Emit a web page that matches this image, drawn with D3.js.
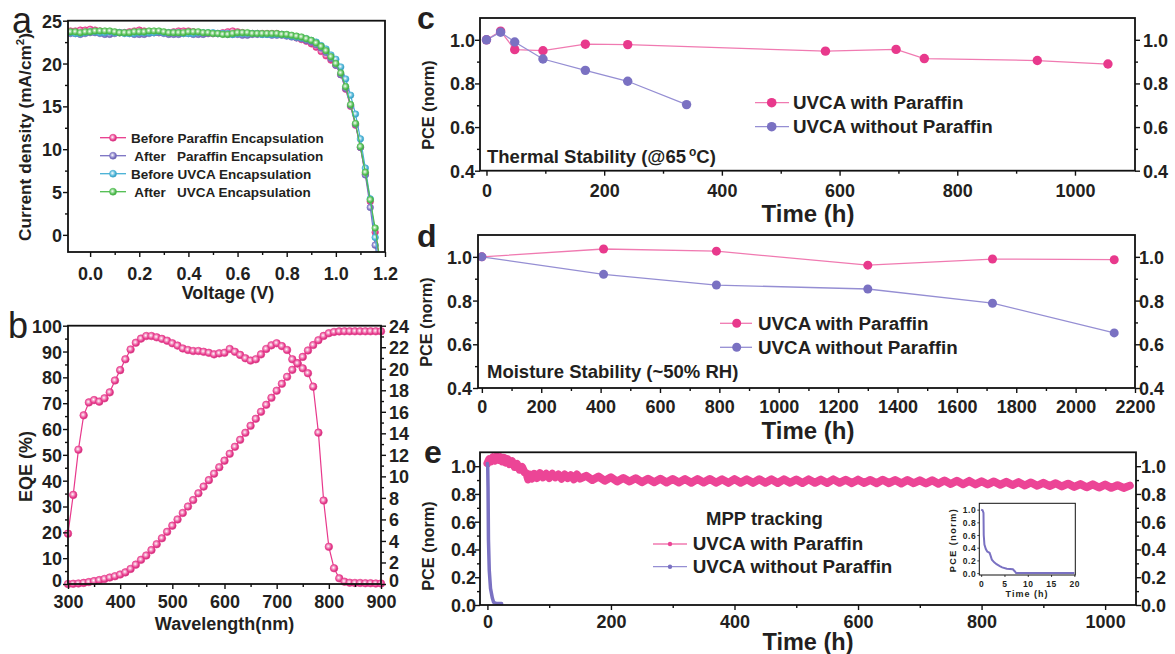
<!DOCTYPE html>
<html><head><meta charset="utf-8">
<script src="https://cdn.jsdelivr.net/npm/d3@7"></script>
<style>
body{margin:0;background:#fff}
svg{display:block}
text{font-family:'Liberation Sans',Arial,Helvetica,sans-serif;font-weight:bold;fill:#231f20}
</style>
</head><body>
<svg id="c" width="1175" height="654"></svg>
<script>
// ---------------- DATA ----------------
// Panel a : J-V curves
const voltage = [-0.10,-0.08,-0.06,-0.04,-0.02,0.00,0.02,0.04,0.06,0.08,0.10,0.12,0.14,0.16,0.18,0.20,0.22,0.24,0.26,0.28,0.30,0.32,0.34,0.36,0.38,0.40,0.42,0.44,0.46,0.48,0.50,0.52,0.54,0.56,0.58,0.60,0.62,0.64,0.66,0.68,0.70,0.72,0.74,0.76,0.78,0.80,0.82,0.84,0.86,0.88,0.90,0.92,0.94,0.96,0.98,1.00,1.02,1.04,1.06,1.08,1.10,1.12,1.14,1.16,1.18];
const jBeforeParaffin = [23.7,23.8,23.8,23.9,23.9,24.0,23.9,23.8,23.7,23.7,23.6,23.6,23.6,23.7,23.8,23.9,23.8,23.7,23.6,23.6,23.6,23.6,23.7,23.8,23.8,23.8,23.7,23.6,23.5,23.5,23.5,23.5,23.6,23.7,23.8,23.7,23.6,23.5,23.5,23.5,23.5,23.5,23.5,23.5,23.4,
  23.3,23.2,23.0,22.8,22.6,22.3,21.9,21.4,20.9,20.4,19.8,18.7,17.0,15.0,12.8,10.2,7.1,3.9,0.3,-3.5];
const jAfterParaffin = [23.6,23.5,23.5,23.4,23.5,23.6,23.6,23.5,23.4,23.4,23.5,23.6,23.6,23.5,23.4,23.4,23.4,23.5,23.6,23.6,23.5,23.4,23.4,23.4,23.5,23.5,23.4,23.4,23.4,23.5,23.5,23.5,23.5,23.4,23.4,23.4,23.3,23.3,23.4,23.4,23.4,23.4,23.3,23.3,23.3,
  23.2,23.1,23.0,22.9,22.7,22.5,22.2,21.8,21.3,20.6,19.8,18.7,17.1,15.1,12.9,10.2,7.0,3.2,-1.2,-5.0];
const jBeforeUVCA = [23.6,23.6,23.5,23.5,23.6,23.7,23.7,23.6,23.6,23.7,23.6,23.6,23.5,23.5,23.5,23.6,23.6,23.6,23.6,23.7,23.6,23.6,23.6,23.6,23.5,23.5,23.5,23.6,23.6,23.6,23.6,23.5,23.5,23.5,23.4,23.5,23.5,23.5,23.5,23.5,23.4,23.4,23.4,23.4,23.4,
  23.3,23.2,23.1,23.0,22.9,22.7,22.5,22.1,21.7,21.0,20.5,19.6,18.2,16.3,14.1,11.2,7.8,4.2,-0.3,-4.5];
const jAfterUVCA = [23.8,23.7,23.7,23.6,23.7,23.7,23.8,23.8,23.8,23.8,23.7,23.6,23.6,23.6,23.7,23.7,23.7,23.8,23.8,23.8,23.7,23.6,23.6,23.6,23.6,23.7,23.7,23.7,23.6,23.6,23.5,23.5,23.4,23.4,23.5,23.6,23.6,23.6,23.5,23.5,23.5,23.5,23.5,23.5,23.4,
  23.4,23.3,23.2,23.1,22.9,22.7,22.4,22.0,21.5,20.8,20.0,18.9,17.3,15.2,13.0,10.3,7.3,4.1,0.8,-3.0];
const jvNames = ["Before Paraffin Encapsulation"," After\u00a0\u00a0 Paraffin Encapsulation","Before UVCA Encapsulation"," After\u00a0\u00a0 UVCA Encapsulation"];

// Panel b : EQE & integrated current
const wavelength = [300,310,320,330,340,350,360,370,380,390,400,410,420,430,440,450,460,470,480,490,500,510,520,530,540,550,560,570,580,590,600,610,620,630,640,650,660,670,680,690,700,710,720,730,740,750,760,770,780,790,800,810,820,830,840,850,860,870,880,890,900];
const eqe = [19.5,34.5,52,65.3,70.3,71.2,70.6,71.9,74.2,78.8,
  82.8,87,90.8,93.4,95,96,96,95.5,94.9,94.2,
  93.2,92.3,91.2,90.6,90.2,90.2,89.9,89.5,88.9,89.3,
  89.5,91,89.9,88.7,87.4,86.5,87,88.9,91,92.4,
  93.2,92.1,90.6,87,85.4,83.5,81.6,76.4,58.6,32.3,
  14.4,6.1,2.2,0.9,0.5,0.4,0.4,0.3,0.3,0.2,0.2];
const jInt = [0,0.02,0.05,0.1,0.18,0.27,0.36,0.47,0.6,0.72,
  0.88,1.08,1.4,1.8,2.25,2.65,3.15,3.7,4.25,4.85,
  5.42,6.0,6.6,7.2,7.8,8.43,9.05,9.65,10.25,10.85,
  11.46,12.1,12.75,13.4,14.05,14.7,15.35,16.0,16.65,17.3,
  17.96,18.6,19.25,19.9,20.5,21.1,21.7,22.2,22.65,23.05,
  23.3,23.42,23.47,23.48,23.48,23.48,23.48,23.48,23.48,23.48,23.48];

// Panel c : thermal stability
const thermTimeP = [0,24,48,96,168,240,576,696,744,936,1056];
const thermPCEP  = [1.0,1.04,0.955,0.95,0.98,0.978,0.948,0.956,0.914,0.905,0.889];
const thermTimeN = [0,24,48,96,168,240,340];
const thermPCEN  = [1.0,1.035,0.99,0.912,0.86,0.81,0.703];

// Panel d : moisture stability
const moistTime = [0,410,790,1300,1720,2130];
const moistPCEP = [1.0,1.036,1.026,0.962,0.99,0.987];
const moistPCEN = [1.0,0.92,0.871,0.853,0.788,0.652];

const seriesNames = ["UVCA with Paraffin","UVCA without Paraffin"];

// Panel e : MPP tracking
const mppTimeP = [0,3,6,9,12,15,18,21,24,27,30,33,36,40,44,48,52,56,60,63,66,69,72,76,80,85,90,95,100,105,110,115,120,125,130,135,140,145,150,160,170,180,190,200,210,220,230,240,250,260,270,280,290,300,310,320,330,340,350,360,370,380,390,400,410,420,430,440,450,460,470,480,490,500,510,520,530,540,550,560,570,580,590,600,610,620,630,640,650,660,670,680,690,700,710,720,730,740,750,760,770,780,790,800,810,820,830,840,850,860,870,880,890,900,910,920,930,940,950,960,970,980,990,1000,1010,1020,1030,1040];
const mppPCEP = [1.02,1.05,1.035,1.065,1.04,1.07,1.045,1.065,1.035,1.06,1.025,1.05,1.015,
  1.035,0.995,1.015,0.975,0.995,0.955,0.95,0.905,0.94,0.91,0.945,0.915,0.95,0.92,0.945,
  0.915,0.945,0.92,0.94,0.91,0.94,0.915,0.935,0.905,0.94,0.91,
  0.93,0.9,0.925,0.895,0.92,0.89,0.915,0.89,0.913,0.885,0.91,0.885,0.909,0.883,0.908,
  0.883,0.907,0.881,0.907,0.882,0.908,0.881,0.905,0.88,0.907,
  0.881,0.905,0.88,0.906,0.881,0.905,0.879,0.905,0.881,0.904,
  0.879,0.905,0.88,0.903,0.879,0.905,0.88,0.902,0.878,0.903,
  0.879,0.901,0.877,0.902,0.878,0.9,0.876,0.901,0.877,0.898,
  0.875,0.898,0.873,0.897,0.872,0.895,0.87,0.894,0.869,0.891,
  0.868,0.89,0.866,0.887,0.864,0.885,0.861,0.883,0.859,0.88,
  0.857,0.877,0.854,0.874,0.851,0.871,0.848,0.869,0.846,0.867,
  0.844,0.863,0.843,0.86];
const mppTimeN = [0,0.5,1,1.7,3,5,8,10,15,23];
const mppPCEN  = [1.02,1.0,0.85,0.47,0.25,0.12,0.05,0.02,0.01,0.01];
const insetTime = [0,0.3,0.5,0.55,0.7,1.0,1.3,1.8,2.0,2.3,2.8,3.3,4.0,4.5,5.5,6.8,7.2,7.5,20];
const insetPCE  = [1.0,0.99,0.95,0.6,0.45,0.38,0.34,0.32,0.28,0.21,0.17,0.14,0.11,0.09,0.07,0.06,0.03,0.0,0.0];

// tick labels
const ticksA_x = [0.0,0.2,0.4,0.6,0.8,1.0,1.2], ticksA_y = [0,5,10,15,20,25];
const ticksB_x = [300,400,500,600,700,800,900], ticksB_y = [0,10,20,30,40,50,60,70,80,90,100], ticksB_yR = [0,2,4,6,8,10,12,14,16,18,20,22,24];
const ticksC_x = [0,200,400,600,800,1000], ticksCD_y = [0.4,0.6,0.8,1.0];
const ticksD_x = [0,200,400,600,800,1000,1200,1400,1600,1800,2000,2200];
const ticksE_x = [0,200,400,600,800,1000], ticksE_y = [0.0,0.2,0.4,0.6,0.8,1.0];
const ticksIn_x = [0,5,10,15,20], ticksIn_y = [0.0,0.2,0.4,0.6,0.8,1.0];

// ---------------- STYLE ----------------
const INK = "#231f20";
const PINK = "#e8398c", PINK_L = "#f07ab1", PURP = "#7a71c2", PURP_L = "#958ed3", CYAN = "#45b0d5", GREEN = "#4fbd4f";
const MPP_PINK = "#ec4596";

const svg = d3.select("#c");
const defs = svg.append("defs");
function ball(id, color) {
  const g = defs.append("radialGradient").attr("id", id).attr("cx", "42%").attr("cy", "42%").attr("r", "58%");
  g.append("stop").attr("offset", "0%").attr("stop-color", "#fff");
  g.append("stop").attr("offset", "38%").attr("stop-color", d3.interpolateRgb("#fff", color)(0.55));
  g.append("stop").attr("offset", "75%").attr("stop-color", color);
  g.append("stop").attr("offset", "100%").attr("stop-color", d3.color(color).darker(0.5));
}
ball("bPink", PINK); ball("bPurp", PURP); ball("bCyan", CYAN); ball("bGreen", GREEN);

function axes(c) {
  const g = svg.append("g");
  const [xl, xr] = c.x.range(), [yb, yt] = c.y.range();
  const T = c.tick || 5, M = c.minor || 3, fs = c.fs || 18;
  function put(gen, tr, kind, gap) {
    const a = g.append("g").attr("transform", tr).call(gen);
    a.select(".domain").remove();
    a.selectAll("line").attr("stroke", "#111").attr("stroke-width", c.tw || 1.4);
    const t = a.selectAll("text").attr("fill", INK).attr("font-size", fs)
      .style("font-family", "'Liberation Sans',Arial,sans-serif").style("font-weight", "bold");
    if (c.ls) t.attr("letter-spacing", c.ls);
    if (kind === "b") t.attr("y", gap).attr("dy", 0);
    if (kind === "l") t.attr("x", -gap).attr("dy", "0.36em");
    if (kind === "r") t.attr("x", gap).attr("dy", "0.36em");
    if ((kind === "l" || kind === "r") && c.zeroLift) t.filter(d => d === 0).attr("y", -c.zeroLift);
    return a;
  }
  put(d3.axisBottom(c.x).tickValues(c.xMinor || []).tickSize(M).tickFormat(""), `translate(0,${yb})`);
  put(d3.axisBottom(c.x).tickValues(c.xTicks).tickSize(T).tickFormat(c.xFmt), `translate(0,${yb})`, "b", c.xGap);
  put(d3.axisLeft(c.y).tickValues(c.yMinor || []).tickSize(M).tickFormat(""), `translate(${xl},0)`);
  put(d3.axisLeft(c.y).tickValues(c.yTicks).tickSize(T).tickFormat(c.yFmt), `translate(${xl},0)`, "l", c.yGap);
  if (c.yR) {
    put(d3.axisRight(c.yR).tickValues(c.yRMinor || []).tickSize(M).tickFormat(""), `translate(${xr},0)`);
    put(d3.axisRight(c.yR).tickValues(c.yRTicks).tickSize(T).tickFormat(c.yRFmt), `translate(${xr},0)`, "r", c.yRGap);
  }
  g.append("rect").attr("x", xl).attr("y", yt).attr("width", xr - xl).attr("height", yb - yt)
    .attr("fill", "none").attr("stroke", "#111").attr("stroke-width", c.fw || 1.8);
  return g;
}
function clip(id, x, y) {
  const [xl, xr] = x.range(), [yb, yt] = y.range();
  defs.append("clipPath").attr("id", id).append("rect").attr("x", xl).attr("y", yt).attr("width", xr - xl).attr("height", yb - yt);
}
function txt(x, y, s, fs, opt = {}) {
  const t = svg.append("text").attr("x", x).attr("y", y).attr("font-size", fs).text(s);
  if (opt.anchor) t.attr("text-anchor", opt.anchor);
  if (opt.rot) t.attr("transform", `rotate(-90,${x},${y})`);
  if (opt.weight) t.style("font-weight", opt.weight);
  return t;
}
const f1 = d3.format(".1f");

// ---------------- PANEL a ----------------
{
  const x = d3.scaleLinear().domain([-0.09, 1.2]).range([68, 385]);
  const y = d3.scaleLinear().domain([-2, 25]).range([252, 20.7]);
  clip("clipA", x, y);
  const series = [[jBeforeParaffin, PINK, "bPink"], [jAfterParaffin, PURP, "bPurp"], [jBeforeUVCA, CYAN, "bCyan"], [jAfterUVCA, GREEN, "bGreen"]];
  const g = svg.append("g").attr("clip-path", "url(#clipA)");
  const line = d3.line().x((d, i) => x(voltage[i])).y(d => y(d));
  series.forEach(([vals, col, grad]) => {
    g.append("path").attr("d", line(vals)).attr("fill", "none").attr("stroke", col).attr("stroke-width", 1.2);
    g.selectAll(null).data(vals).join("circle").attr("cx", (d, i) => x(voltage[i])).attr("cy", d => y(d))
      .attr("r", 3.3).attr("fill", `url(#${grad})`).attr("stroke", col).attr("stroke-width", 0.6);
  });
  axes({ x, y, xTicks: ticksA_x, xMinor: [0.1,0.3,0.5,0.7,0.9,1.1], yTicks: ticksA_y, yMinor: [2.5,7.5,12.5,17.5,22.5],
    xFmt: f1, yFmt: d3.format("d"), xGap: 27.5, yGap: 6, fs: 18 });
  // legend
  series.forEach(([vals, col, grad], i) => {
    const yy = 137.7 + i * 18;
    svg.append("line").attr("x1", 100).attr("x2", 126).attr("y1", yy).attr("y2", yy).attr("stroke", col).attr("stroke-width", 1.3);
    svg.append("circle").attr("cx", 113).attr("cy", yy).attr("r", 3.5).attr("fill", `url(#${grad})`).attr("stroke", col).attr("stroke-width", 0.6);
    txt(131, yy + 5, jvNames[i], 13.5).attr("xml:space", "preserve");
  });
  txt(228, 298.5, "Voltage (V)", 18, { anchor: "middle" });
  const yt = txt(31, 137, "", 17.3, { anchor: "middle", rot: true });
  yt.append("tspan").text("Current density (mA/cm");
  yt.append("tspan").attr("dy", -7).attr("font-size", 11.5).text("2");
  yt.append("tspan").attr("dy", 7).text(")");
  txt(12, 33, "a", 36, { weight: "normal" });
}

// ---------------- PANEL b ----------------
{
  const x = d3.scaleLinear().domain([300, 900]).range([68, 381]);
  const y = d3.scaleLinear().domain([0, 100]).range([584, 325.7]);
  const yR = d3.scaleLinear().domain([0, 24]).range([584, 325.7]);
  const g = svg.append("g");
  const l1 = d3.line().x((d, i) => x(wavelength[i])).y(d => y(d));
  const l2 = d3.line().x((d, i) => x(wavelength[i])).y(d => yR(d));
  g.append("path").attr("d", l1(eqe)).attr("fill", "none").attr("stroke", PINK).attr("stroke-width", 1.2);
  g.append("path").attr("d", l2(jInt)).attr("fill", "none").attr("stroke", PINK).attr("stroke-width", 1.2);
  g.selectAll(null).data(eqe).join("circle").attr("cx", (d, i) => x(wavelength[i])).attr("cy", d => y(d))
    .attr("r", 3.8).attr("fill", "url(#bPink)").attr("stroke", PINK).attr("stroke-width", 0.6);
  g.selectAll(null).data(jInt).join("circle").attr("cx", (d, i) => x(wavelength[i])).attr("cy", d => yR(d))
    .attr("r", 3.8).attr("fill", "url(#bPink)").attr("stroke", PINK).attr("stroke-width", 0.6);
  axes({ x, y, yR, xTicks: ticksB_x, xMinor: [350,450,550,650,750,850], yTicks: ticksB_y, yMinor: [5,15,25,35,45,55,65,75,85,95],
    yRTicks: ticksB_yR, yRMinor: [1,3,5,7,9,11,13,15,17,19,21,23],
    xFmt: d3.format("d"), yFmt: d3.format("d"), yRFmt: d3.format("d"), xGap: 24, yGap: 6, yRGap: 8, fs: 18, zeroLift: 3.5 });
  txt(224.5, 630, "Wavelength(nm)", 18, { anchor: "middle" });
  txt(32, 466.5, "EQE (%)", 18, { anchor: "middle", rot: true });
  txt(8, 338, "b", 36, { weight: "normal" });
}

// generic stability panel drawer
function stability(x, y, tP, vP, tN, vN, r) {
  const g = svg.append("g");
  const lp = d3.line().x((d, i) => x(tP[i])).y(d => y(d));
  const ln = d3.line().x((d, i) => x(tN[i])).y(d => y(d));
  g.append("path").attr("d", lp(vP)).attr("fill", "none").attr("stroke", PINK_L).attr("stroke-width", 1.3);
  g.append("path").attr("d", ln(vN)).attr("fill", "none").attr("stroke", PURP_L).attr("stroke-width", 1.3);
  g.selectAll(null).data(vP).join("circle").attr("cx", (d, i) => x(tP[i])).attr("cy", d => y(d)).attr("r", r).attr("fill", PINK);
  g.selectAll(null).data(vN).join("circle").attr("cx", (d, i) => x(tN[i])).attr("cy", d => y(d)).attr("r", r).attr("fill", PURP);
}
function legend2(x1, x2, xm, xt, y1, y2, r, fs, dyText) {
  [[PINK, PINK_L, y1], [PURP, PURP_L, y2]].forEach(([c, cl, yy], i) => {
    svg.append("line").attr("x1", x1).attr("x2", x2).attr("y1", yy).attr("y2", yy).attr("stroke", cl).attr("stroke-width", 1.3);
    svg.append("circle").attr("cx", xm).attr("cy", yy).attr("r", r).attr("fill", c);
    txt(xt, yy + dyText, seriesNames[i], fs);
  });
}

// ---------------- PANEL c ----------------
{
  const x = d3.scaleLinear().domain([-11, 1102]).range([480, 1135]);
  const y = d3.scaleLinear().domain([0.4, 1.1]).range([170.7, 18]);
  stability(x, y, thermTimeP, thermPCEP, thermTimeN, thermPCEN, 4.7);
  axes({ x, y, yR: y, xTicks: ticksC_x, xMinor: [100,300,500,700,900], yTicks: ticksCD_y, yMinor: [0.5,0.7,0.9],
    yRTicks: ticksCD_y, yRMinor: [0.5,0.7,0.9],
    xFmt: d3.format("d"), yFmt: f1, yRFmt: f1, xGap: 26.5, yGap: 5, yRGap: 8, fs: 18 });
  legend2(755, 789, 771.7, 793, 102.7, 126.7, 4.8, 18.8, 6.3);
  const t = txt(487, 163, "Thermal Stability (@65", 18.5);
  t.append("tspan").attr("dx", 3).attr("dy", -7).attr("font-size", 12).text("o");
  t.append("tspan").attr("dy", 7).text("C)");
  txt(808, 222, "Time (h)", 24, { anchor: "middle" });
  txt(434, 105, "PCE (norm)", 16.3, { anchor: "middle", rot: true });
  txt(417, 29, "c", 32);
}

// ---------------- PANEL d ----------------
{
  const x = d3.scaleLinear().domain([-13, 2200]).range([478, 1135]);
  const y = d3.scaleLinear().domain([0.4, 1.1]).range([388, 235]);
  stability(x, y, moistTime, moistPCEP, moistTime, moistPCEN, 4.5);
  axes({ x, y, yR: y, xTicks: ticksD_x, xMinor: [100,300,500,700,900,1100,1300,1500,1700,1900,2100], yTicks: ticksCD_y, yMinor: [0.5,0.7,0.9],
    yRTicks: ticksCD_y, yRMinor: [0.5,0.7,0.9],
    xFmt: d3.format("d"), yFmt: f1, yRFmt: f1, xGap: 25, yGap: 6, yRGap: 4, fs: 18 });
  legend2(720, 752, 736.7, 758, 323.3, 347.3, 4.5, 18.8, 6.3);
  txt(487, 378.3, "Moisture Stability (~50% RH)", 18.5);
  txt(808, 439, "Time (h)", 24, { anchor: "middle" });
  txt(432, 322, "PCE (norm)", 16.3, { anchor: "middle", rot: true });
  txt(417, 247, "d", 32);
}

// ---------------- PANEL e ----------------
{
  const x = d3.scaleLinear().domain([-12, 1050]).range([480, 1136]);
  const y = d3.scaleLinear().domain([0, 1.1]).range([605, 452.3]);
  clip("clipE", x, y);
  const g = svg.append("g").attr("clip-path", "url(#clipE)");
  const lp = d3.line().x((d, i) => x(mppTimeP[i])).y(d => y(d));
  const ln = d3.line().x((d, i) => x(mppTimeN[i])).y(d => y(d));
  g.append("path").attr("d", lp(mppPCEP)).attr("fill", "none").attr("stroke", MPP_PINK).attr("stroke-width", 8)
    .attr("stroke-linejoin", "round").attr("stroke-linecap", "round");
  g.append("path").attr("d", ln(mppPCEN)).attr("fill", "none").attr("stroke", PURP).attr("stroke-width", 3.5)
    .attr("stroke-linejoin", "round").attr("stroke-linecap", "round");
  axes({ x, y, yR: y, xTicks: ticksE_x, xMinor: [100,300,500,700,900], yTicks: ticksE_y, yMinor: [0.1,0.3,0.5,0.7,0.9],
    yRTicks: ticksE_y, yRMinor: [0.1,0.3,0.5,0.7,0.9],
    xFmt: d3.format("d"), yFmt: f1, yRFmt: f1, xGap: 23, yGap: 4, yRGap: 5, fs: 18 });
  // legend
  txt(706, 525, "MPP tracking", 18.5);
  [[MPP_PINK, PINK_L, 544], [PURP, PURP_L, 566.7]].forEach(([c, cl, yy], i) => {
    svg.append("line").attr("x1", 653).attr("x2", 687).attr("y1", yy).attr("y2", yy).attr("stroke", cl).attr("stroke-width", 1.3);
    svg.append("circle").attr("cx", 670).attr("cy", yy).attr("r", 2.2).attr("fill", c);
    txt(692.7, yy + 6.3, seriesNames[i], 18.8);
  });
  txt(808, 649.5, "Time (h)", 23.5, { anchor: "middle" });
  txt(434, 546, "PCE (norm)", 16.3, { anchor: "middle", rot: true });
  txt(424, 463, "e", 32);

  // inset
  const xi = d3.scaleLinear().domain([-0.4, 20.2]).range([979.3, 1075.3]);
  const yi = d3.scaleLinear().domain([-0.03, 1.1]).range([575, 503.3]);
  const li = d3.line().x((d, i) => xi(insetTime[i])).y(d => yi(d));
  svg.append("path").attr("d", li(insetPCE)).attr("fill", "none").attr("stroke", PURP).attr("stroke-width", 2);
  axes({ x: xi, y: yi, xTicks: ticksIn_x, yTicks: ticksIn_y, xFmt: d3.format("d"), yFmt: f1,
    xGap: 12, yGap: 3, fs: 8.5, tick: 2, minor: 1, tw: 0.8, fw: 1, ls: 0.6 });
  svg.append("text").attr("x", 1027).attr("y", 596.5).attr("font-size", 9).attr("text-anchor", "middle").attr("letter-spacing", 1).text("Time (h)");
  svg.append("text").attr("x", 956).attr("y", 540).attr("font-size", 9).attr("text-anchor", "middle").attr("letter-spacing", 1.5)
    .attr("transform", "rotate(-90,956,540)").text("PCE (norm)");
}
</script>
</body></html>
